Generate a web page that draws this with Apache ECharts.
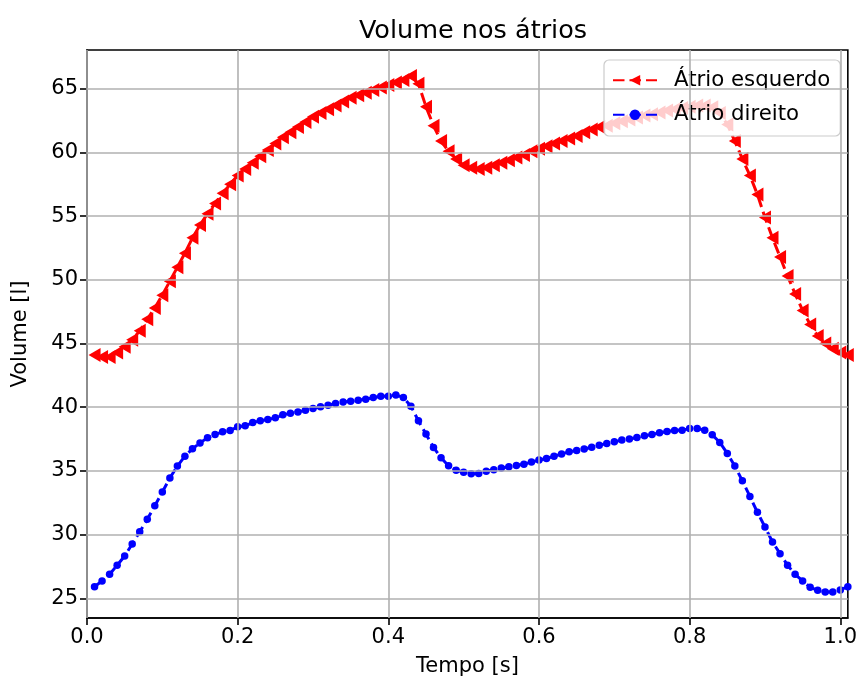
<!DOCTYPE html>
<html>
<head>
<meta charset="utf-8">
<script src="https://cdn.jsdelivr.net/npm/echarts@6/dist/echarts.min.js"></script>
<style>
html,body{margin:0;padding:0;background:#fff;}
#chart{width:860px;height:686px;}
</style>
</head>
<body>
<div id="chart"></div>
<script>
const tempo = [0.01,0.02,0.03,0.04,0.05,0.06,0.07,0.08,0.09,0.10,
0.11,0.12,0.13,0.14,0.15,0.16,0.17,0.18,0.19,0.20,
0.21,0.22,0.23,0.24,0.25,0.26,0.27,0.28,0.29,0.30,
0.31,0.32,0.33,0.34,0.35,0.36,0.37,0.38,0.39,0.40,
0.41,0.42,0.43,0.44,0.45,0.46,0.47,0.48,0.49,0.50,
0.51,0.52,0.53,0.54,0.55,0.56,0.57,0.58,0.59,0.60,
0.61,0.62,0.63,0.64,0.65,0.66,0.67,0.68,0.69,0.70,
0.71,0.72,0.73,0.74,0.75,0.76,0.77,0.78,0.79,0.80,
0.81,0.82,0.83,0.84,0.85,0.86,0.87,0.88,0.89,0.90,
0.91,0.92,0.93,0.94,0.95,0.96,0.97,0.98,0.99,1.00,1.01];

const atrioEsquerdo = [44.1,43.95,43.95,44.3,44.75,45.3,46.0,46.9,47.8,48.8,
49.9,51.0,52.1,53.3,54.3,55.2,56.0,56.8,57.5,58.2,
58.7,59.2,59.7,60.2,60.7,61.2,61.6,62.0,62.4,62.8,
63.1,63.4,63.7,64.0,64.3,64.5,64.7,64.9,65.1,65.3,
65.5,65.7,66.0,65.4,63.6,62.1,60.9,60.1,59.5,59.0,
58.8,58.7,58.8,59.0,59.2,59.4,59.6,59.8,60.1,60.3,
60.5,60.7,60.9,61.1,61.3,61.6,61.8,62.0,62.1,62.3,
62.45,62.6,62.75,62.9,63.0,63.15,63.3,63.4,63.5,63.6,
63.7,63.7,63.55,63.1,62.2,60.9,59.5,58.2,56.7,54.9,
53.3,51.8,50.3,48.9,47.6,46.5,45.6,45.0,44.6,44.3,44.1];

const atrioDireito = [25.9,26.36,26.88,27.59,28.32,29.26,30.22,31.2,32.26,33.34,
34.44,35.38,36.16,36.73,37.2,37.6,37.86,38.07,38.18,38.46,
38.54,38.8,38.93,39.04,39.17,39.4,39.53,39.63,39.77,39.9,
40.03,40.16,40.29,40.42,40.47,40.55,40.63,40.76,40.86,40.86,
40.97,40.76,40.08,38.93,37.89,36.84,36.03,35.4,35.06,34.9,
34.77,34.8,34.98,35.1,35.22,35.32,35.43,35.53,35.69,35.85,
35.98,36.16,36.32,36.5,36.6,36.72,36.86,37.02,37.16,37.28,
37.42,37.5,37.63,37.76,37.86,37.99,38.1,38.18,38.2,38.33,
38.33,38.2,37.83,37.24,36.37,35.38,34.22,33.0,31.75,30.6,
29.42,28.5,27.59,26.88,26.36,25.86,25.63,25.5,25.5,25.65,25.91];

const xTicks = [0.0,0.2,0.4,0.6,0.8,1.0];
const yTicks = [25,30,35,40,45,50,55,60,65];

const FONT = 'DejaVu Sans';
const chart = echarts.init(document.getElementById('chart'), null, {renderer:'canvas'});

const pairs = (xs, ys) => xs.map((x,i)=>[x, ys[i]]);

const option = {
  animation:false,
  backgroundColor:'#fff',
  textStyle:{fontFamily:FONT},
  title:{
    text:'Volume nos átrios',
    left:468, top:13, textAlign:'center',
    textStyle:{fontFamily:FONT, fontSize:25.5, fontWeight:'normal', color:'#000'}
  },
  grid:{left:87, right:11, top:50, bottom:68, show:true, borderColor:'#000', borderWidth:1.6, containLabel:false},
  legend:{
    orient:'vertical',
    left:604, top:60,
    padding:[8,10,9,8],
    itemGap:10,
    itemWidth:44, itemHeight:13,
    backgroundColor:'rgba(255,255,255,0.8)',
    borderColor:'#cccccc', borderWidth:1.2, borderRadius:5,
    textStyle:{fontFamily:FONT, fontSize:21.3, color:'#000', lineHeight:24.5, padding:[0,0,0,12]},
    data:['Átrio esquerdo','Átrio direito']
  },
  xAxis:{
    type:'value', min:0, max:1.01,
    name:'Tempo [s]', nameLocation:'middle', nameGap:38,
    nameTextStyle:{fontFamily:FONT, fontSize:21, color:'#000'},
    axisLine:{show:true, lineStyle:{color:'#000', width:1.6}},
    axisTick:{show:true, inside:false, length:7, customValues:xTicks, lineStyle:{color:'#000', width:1.6}},
    axisLabel:{customValues:xTicks, margin:9, fontFamily:FONT, fontSize:21, color:'#000', formatter:v=>v.toFixed(1)},
    splitLine:{show:false}
  },
  yAxis:{
    type:'value', min:23.45, max:68.05,
    name:'Volume [l]', nameLocation:'middle', nameGap:56, nameRotate:90,
    nameTextStyle:{fontFamily:FONT, fontSize:21, color:'#000'},
    axisLine:{show:true, lineStyle:{color:'#000', width:1.6}},
    axisTick:{show:true, inside:false, length:7, customValues:yTicks, lineStyle:{color:'#000', width:1.6}},
    axisLabel:{customValues:yTicks, margin:9, fontFamily:FONT, fontSize:21, color:'#000', formatter:v=>String(Math.round(v))},
    splitLine:{show:false}
  },
  series:[
    {
      name:'grid', type:'line', data:[], z:1, silent:true,
      markLine:{
        silent:true, symbol:['none','none'], animation:false,
        label:{show:false},
        lineStyle:{color:'#b0b0b0', width:1.6, type:'solid'},
        emphasis:{disabled:true},
        data:[...xTicks.map(v=>({xAxis:v})), ...yTicks.map(v=>({yAxis:v}))]
      }
    },
    {
      name:'Átrio esquerdo', type:'line', z:3,
      data:pairs(tempo, atrioEsquerdo),
      symbol:'triangle', symbolRotate:90, symbolSize:[14,12],
      showAllSymbol:true,
      itemStyle:{color:'#ff0000'},
      lineStyle:{color:'#ff0000', width:3, type:[11.5,5]}
    },
    {
      name:'Átrio direito', type:'line', z:3,
      data:pairs(tempo, atrioDireito),
      symbol:'circle', symbolSize:7.5,
      showAllSymbol:true,
      itemStyle:{color:'#0000ff'},
      lineStyle:{color:'#0000ff', width:3, type:[11.5,5]}
    }
  ]
};
chart.setOption(option);
</script>
</body>
</html>
